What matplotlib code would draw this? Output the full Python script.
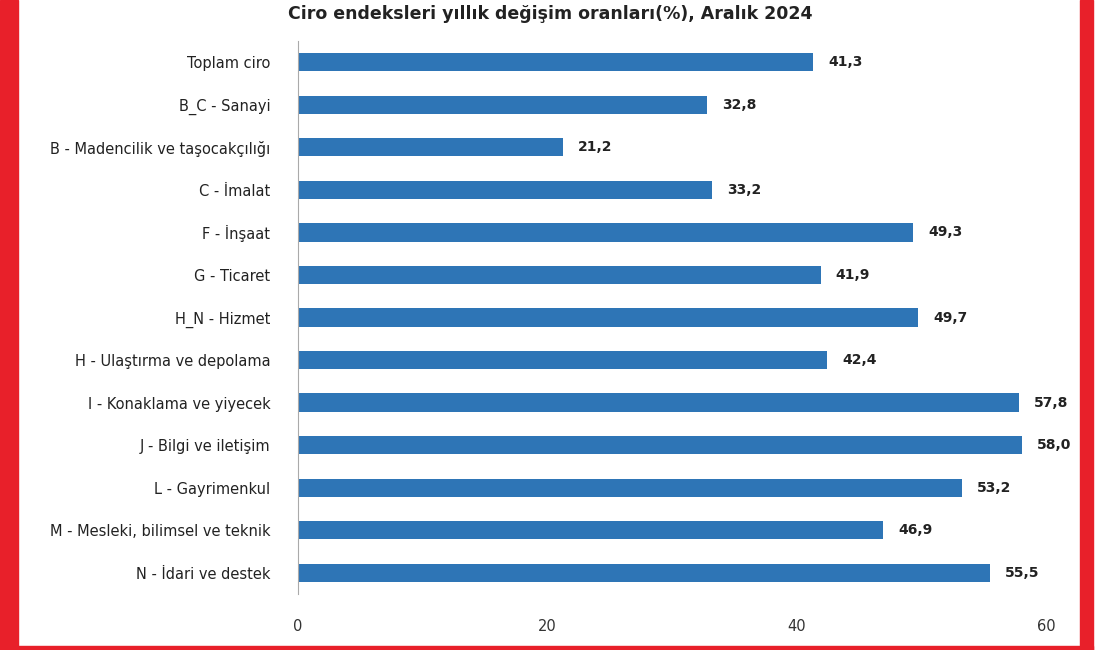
import matplotlib.pyplot as plt
from matplotlib.patches import Rectangle

categories = ["Toplam ciro", "B_C - Sanayi", "B - Madencilik ve taşocakçılığı", "C - İmalat",
              "F - İnşaat", "G - Ticaret", "H_N - Hizmet", "H - Ulaştırma ve depolama",
              "I - Konaklama ve yiyecek", "J - Bilgi ve iletişim", "L - Gayrimenkul",
              "M - Mesleki, bilimsel ve teknik", "N - İdari ve destek"]
values = [41.3, 32.8, 21.2, 33.2, 49.3, 41.9, 49.7, 42.4, 57.8, 58.0, 53.2, 46.9, 55.5]
xticks = [0, 20, 40, 60]

fig = plt.figure(figsize=(11, 6.5), dpi=100)
ax = fig.add_axes([0.271, 0.086, 0.703, 0.851])
pos = list(range(len(categories)))
ax.barh(pos, values, height=0.43, color="#2e75b6")
for p, v in zip(pos, values):
    ax.text(v + 1.2, p, f"{v:.1f}".replace(".", ","), va="center", ha="left",
            fontsize=10, fontweight="bold", color="#222222")
ax.set_yticks(pos)
ax.set_yticklabels(categories, fontsize=10.5, color="#222222")
ax.set_ylim(12.5, -0.5)
ax.set_xlim(0, 62)
ax.set_xticks(xticks)
ax.set_xticklabels([str(t) for t in xticks], fontsize=10.5, color="#333333")
for s in ["top", "right", "bottom"]:
    ax.spines[s].set_visible(False)
ax.spines["left"].set_color("#aaaaaa")
ax.tick_params(axis="both", length=0)
ax.tick_params(axis="x", pad=18)
ax.tick_params(axis="y", pad=20)

fig.text(0.5, 0.978, "Ciro endeksleri yıllık değişim oranları(%), Aralık 2024",
         ha="center", va="center", fontsize=12.5, fontweight="bold", color="#222222")
fig.add_artist(Rectangle((0, 0), 18 / 1100, 1, transform=fig.transFigure, color="#e8202a"))
fig.add_artist(Rectangle((1080 / 1100, 0), 13 / 1100, 1, transform=fig.transFigure, color="#e8202a"))
fig.add_artist(Rectangle((0, 0), 1093 / 1100, 4 / 650, transform=fig.transFigure, color="#e8202a"))

fig.savefig("out.png", dpi=100)
